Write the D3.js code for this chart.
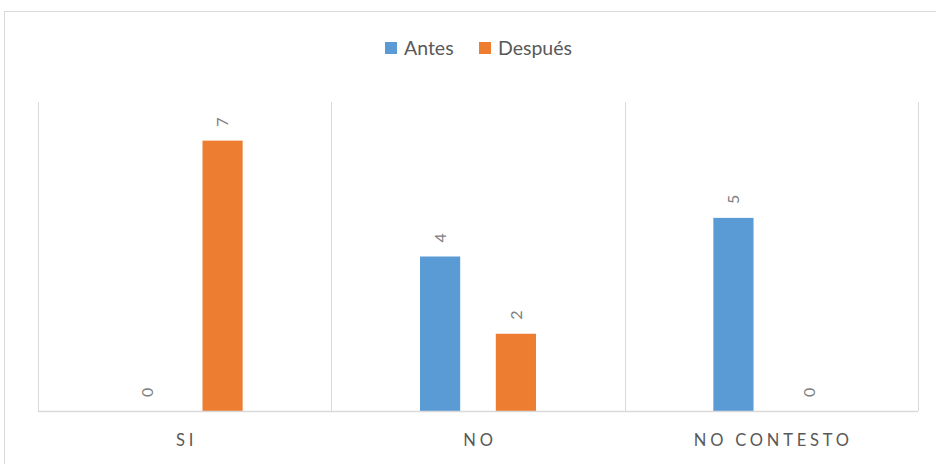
<!DOCTYPE html>
<html>
<head>
<meta charset="utf-8">
<script src="https://cdnjs.cloudflare.com/ajax/libs/d3/7.8.5/d3.min.js"></script>
<style>
  body { margin: 0; background: #fff; }
  svg { display: block; font-family: Lato, "Open Sans", sans-serif; }
</style>
</head>
<body>
<div id="chart"></div>
<script>
const categories = ['SI', 'NO', 'NO CONTESTO'];
const series = ['Antes', 'Después'];
const antes = [0, 4, 5];
const despues = [7, 2, 0];
const colors = ['#5b9bd5', '#ed7d31'];

const W = 936, H = 464;
const margin = { top: 102, right: 18, bottom: 53, left: 38 };
const width = W - margin.left - margin.right;
const height = H - margin.top - margin.bottom;

const svg = d3.select('#chart').append('svg')
  .attr('width', W)
  .attr('height', H);

// chart area border
svg.append('rect')
  .attr('x', 4.5).attr('y', 11.5)
  .attr('width', 940).attr('height', 470)
  .attr('fill', 'none')
  .attr('stroke', '#d9d9d9');

const g = svg.append('g')
  .attr('transform', `translate(${margin.left},${margin.top})`);

const x0 = d3.scaleBand().domain(categories).range([0, width]).padding(0);
const x1 = d3.scaleBand().domain(series).range([0, x0.bandwidth()])
  .paddingInner(0.47).paddingOuter(1.17);
const y = d3.scaleLinear().domain([0, 8]).range([height, 0]);

// vertical gridlines between categories
const bounds = categories.map(c => x0(c)).concat([width]);
g.selectAll('.grid')
  .data(bounds)
  .enter().append('line')
  .attr('class', 'grid')
  .attr('x1', d => Math.round(d) + 0.5)
  .attr('x2', d => Math.round(d) + 0.5)
  .attr('y1', 0)
  .attr('y2', height)
  .attr('stroke', '#d9d9d9');

const rows = categories.map((c, i) => ({ cat: c, values: [antes[i], despues[i]] }));

const group = g.selectAll('.cat')
  .data(rows)
  .enter().append('g')
  .attr('class', 'cat')
  .attr('transform', d => `translate(${x0(d.cat)},0)`);

group.selectAll('rect')
  .data(d => d.values.map((v, j) => ({ key: series[j], v: v, j: j })))
  .enter().append('rect')
  .attr('x', d => x1(d.key))
  .attr('y', d => y(d.v))
  .attr('width', x1.bandwidth())
  .attr('height', d => height - y(d.v))
  .attr('fill', d => colors[d.j]);

// rotated data labels
group.selectAll('text.lbl')
  .data(d => d.values.map((v, j) => ({ key: series[j], v: v })))
  .enter().append('text')
  .attr('class', 'lbl')
  .attr('transform', d => `translate(${x1(d.key) + x1.bandwidth() / 2},${y(d.v) - 14}) rotate(-90)`)
  .attr('dy', '0.36em')
  .attr('text-anchor', 'start')
  .attr('font-size', 16)
  .attr('fill', '#7f7f7f')
  .text(d => d.v);

// baseline
g.append('line')
  .attr('x1', 0).attr('x2', width)
  .attr('y1', height + 0.5).attr('y2', height + 0.5)
  .attr('stroke', '#d9d9d9')
  .attr('stroke-width', 1.5);

// category labels
g.selectAll('.catlbl')
  .data(categories)
  .enter().append('text')
  .attr('class', 'catlbl')
  .attr('x', d => x0(d) + x0.bandwidth() / 2 + 2)
  .attr('y', height + 35)
  .attr('text-anchor', 'middle')
  .attr('font-size', 16.5)
  .attr('letter-spacing', 3.8)
  .attr('fill', '#595959')
  .text(d => d);

// legend
const legend = svg.append('g').attr('transform', 'translate(385,42)');
const litems = [{ name: series[0], x: 0 }, { name: series[1], x: 94 }];
const li = legend.selectAll('.li')
  .data(litems)
  .enter().append('g')
  .attr('transform', d => `translate(${d.x},0)`);
li.append('rect')
  .attr('width', 12).attr('height', 12)
  .attr('fill', (d, i) => colors[i]);
li.append('text')
  .attr('x', 19).attr('y', 13)
  .attr('font-size', 19.5)
  .attr('fill', '#595959')
  .text(d => d.name);
</script>
</body>
</html>
